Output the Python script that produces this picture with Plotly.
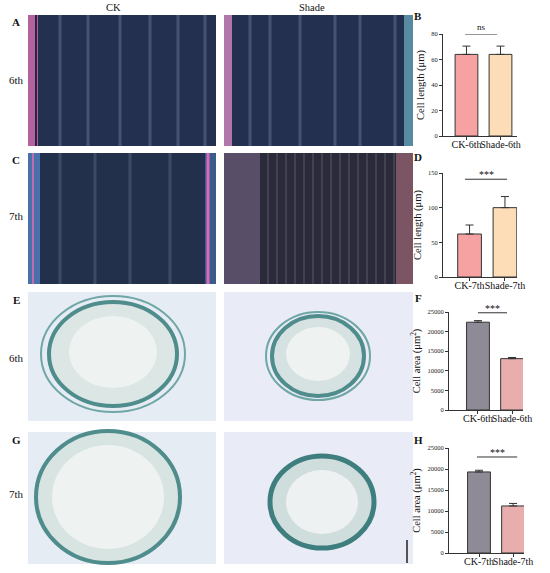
import plotly.graph_objects as go

W, H = 550, 573

# ---- data ----
cats_6th = ["CK-6th", "Shade-6th"]
cats_7th = ["CK-7th", "Shade-7th"]
length_6th = [64, 64]
length_6th_err = [6.5, 6.5]
length_7th = [62, 100]
length_7th_err = [13, 16]
area_6th = [22400, 13100]
area_6th_err = [400, 300]
area_7th = [19300, 11200]
area_7th_err = [400, 600]
sig_B, sig_D, sig_F, sig_H = "ns", "***", "***", "***"

len_colors = ["#F7A2A2", "#FDDDB8"]
area_colors = ["#8F8B96", "#E8AEAE"]

def px(x):
    return x / W

def py(y):
    return 1 - y / H

FONT = "Liberation Serif, Times New Roman, serif"

fig = go.Figure()

def add_bars(vals, errs, cats, colors, ax):
    fig.add_trace(go.Bar(
        x=cats, y=vals, width=0.67,
        marker=dict(color=colors, line=dict(color="#333333", width=1)),
        error_y=dict(type="data", array=errs, arrayminus=[0]*len(errs), symmetric=False,
                     color="#333333", thickness=1, width=4),
        xaxis="x" + ax, yaxis="y" + ax, showlegend=False))

add_bars(length_6th, length_6th_err, cats_6th, len_colors, "")
add_bars(length_7th, length_7th_err, cats_7th, len_colors, "2")
add_bars(area_6th, area_6th_err, cats_6th, area_colors, "3")
add_bars(area_7th, area_7th_err, cats_7th, area_colors, "4")

def xax(dom, rng):
    return dict(domain=dom, range=rng, showline=True, linecolor="#333", linewidth=1,
                ticks="outside", ticklen=3, tickcolor="#333", showgrid=False, zeroline=False,
                tickangle=0, automargin=False, ticklabelstandoff=-4,
                tickfont=dict(family=FONT, size=10, color="#111"), fixedrange=True)

def yax(dom, rng, dtick, anchor, title):
    return dict(domain=dom, range=rng, dtick=dtick, showline=True, linecolor="#333", linewidth=1,
                ticks="outside", ticklen=3, tickcolor="#333", showgrid=False, zeroline=False,
                tickformat="d", automargin=False,
                tickfont=dict(family=FONT, size=6.5, color="#222"), anchor=anchor,
                title=dict(text=title, font=dict(family=FONT, size=10.5, color="#111"), standoff=4))

fig.update_layout(
    xaxis=dict(xax([px(443), px(517)], [-0.69, 1.485]), anchor="y"),
    yaxis=yax([py(136), py(34)], [0, 80], 20, "x", "Cell length (μm)"),
    xaxis2=dict(xax([px(443), px(517)], [-0.75, 1.34]), anchor="y2"),
    yaxis2=yax([py(277), py(173)], [0, 150], 50, "x2", "Cell length (μm)"),
    xaxis3=dict(xax([px(449), px(523)], [-0.85, 1.32]), anchor="y3"),
    yaxis3=yax([py(410), py(312)], [0, 25000], 5000, "x3", "Cell area (μm<sup>2</sup>)"),
    xaxis4=dict(xax([px(449), px(524)], [-0.88, 1.32]), anchor="y4"),
    yaxis4=yax([py(553), py(448)], [0, 25000], 5000, "x4", "Cell area (μm<sup>2</sup>)"),
)

shapes = []
annots = []

def sig(ax, x0, x1, yv, text):
    shapes.append(dict(type="line", xref="x" + ax, yref="y" + ax, x0=x0, x1=x1, y0=yv, y1=yv,
                       line=dict(color="#333", width=1)))
    annots.append(dict(xref="x" + ax, yref="y" + ax, x=(x0 + x1) / 2, y=yv, text=text,
                       showarrow=False, yanchor="bottom", yshift=0 if text == "ns" else -3,
                       font=dict(family=FONT, size=9 if text == "ns" else 10, color="#111")))

sig("", -0.04, 0.9, 80, sig_B)
sig("2", -0.13, 1.06, 141, sig_D)
sig("3", 0.0, 0.85, 24800, sig_F)
sig("4", -0.06, 1.12, 22860, sig_H)

# ---- micrograph panels (decorative approximations) ----
def rect(x0, y0, x1, y1, color, opacity=1.0):
    shapes.append(dict(type="rect", xref="paper", yref="paper", x0=px(x0), x1=px(x1),
                       y0=py(y1), y1=py(y0), fillcolor=color, opacity=opacity,
                       line=dict(width=0), layer="below"))

def vline(x, y0, y1, color, w=1, op=0.5):
    shapes.append(dict(type="line", xref="paper", yref="paper", x0=px(x), x1=px(x),
                       y0=py(y1), y1=py(y0), line=dict(color=color, width=w), opacity=op,
                       layer="below"))

def ellipse(cx, cy, rx, ry, fill, line, lw=2):
    shapes.append(dict(type="circle", xref="paper", yref="paper", x0=px(cx - rx), x1=px(cx + rx),
                       y0=py(cy + ry), y1=py(cy - ry), fillcolor=fill,
                       line=dict(color=line, width=lw), layer="below"))

LX0, LX1, RX0, RX1 = 28, 216, 224, 413
rowA, rowC, rowE, rowG = (15, 146), (153, 284), (292, 421), (432, 564)

# row A
for (x0, x1) in [(LX0, LX1), (RX0, RX1)]:
    rect(x0, rowA[0], x1, rowA[1], "#24304F")
for x in [60, 88, 120, 150, 178, 205]:
    vline(x, rowA[0], rowA[1], "#8FA6C8", w=3, op=0.3)
for x in [250, 270, 300, 335, 360, 395]:
    vline(x, rowA[0], rowA[1], "#8FA6C8", w=3, op=0.3)
rect(LX0, rowA[0], 38, rowA[1], "#D86FB0", 0.8)
vline(36, rowA[0], rowA[1], "#1A1F3A", w=2, op=0.9)
rect(RX0, rowA[0], 232, rowA[1], "#D48AC2", 0.8)
rect(404, rowA[0], RX1, rowA[1], "#7CC7D8", 0.6)

# row C
rect(LX0, rowC[0], LX1, rowC[1], "#22304C")
rect(LX0, rowC[0], 40, rowC[1], "#5A8CD0", 0.7)
vline(33, rowC[0], rowC[1], "#E06CB4", w=2, op=0.8)
rect(205, rowC[0], LX1, rowC[1], "#4C78B8", 0.6)
vline(208, rowC[0], rowC[1], "#F06ABC", w=3, op=0.9)
for x in [60, 95, 130, 170]:
    vline(x, rowC[0], rowC[1], "#8FA6C8", w=3, op=0.22)
rect(RX0, rowC[0], RX1, rowC[1], "#2A2A3A")
rect(RX0, rowC[0], 260, rowC[1], "#6E5E7A", 0.7)
rect(396, rowC[0], RX1, rowC[1], "#A06878", 0.7)
for x in range(268, 396, 9):
    vline(x, rowC[0], rowC[1], "#C9C3D2", w=1, op=0.3)

# row E / G : cross sections
for r in (rowE, rowG):
    rect(LX0, r[0], LX1, r[1], "#E6ECF4")
    rect(RX0, r[0], RX1, r[1], "#E9ECF6")

ellipse(113, 354, 72, 58, "rgba(0,0,0,0)", "#6FA6A6", 2)
ellipse(113, 354, 64, 52, "#DCE6E5", "#4F8C8C", 4)
ellipse(113, 352, 44, 36, "#EEF2F1", "rgba(0,0,0,0)", 0)

ellipse(318, 356, 52, 44, "rgba(0,0,0,0)", "#6FA6A6", 2)
ellipse(318, 356, 46, 40, "#D6E2E1", "#4F8C8C", 4)
ellipse(318, 354, 32, 27, "#EEF2F1", "rgba(0,0,0,0)", 0)

ellipse(108, 497, 72, 66, "#D8E4E2", "#4F8C8C", 4)
ellipse(108, 497, 56, 52, "#EEF2F1", "rgba(0,0,0,0)", 0)

ellipse(322, 502, 52, 46, "#CFDDDC", "#3F7E7E", 5)
ellipse(322, 502, 36, 32, "#EDF1F1", "rgba(0,0,0,0)", 0)

# scale bar
shapes.append(dict(type="line", xref="paper", yref="paper", x0=px(407), x1=px(407),
                   y0=py(563), y1=py(540), line=dict(color="#222", width=1.5)))

def txt(x, y, t, size=11, bold=False):
    annots.append(dict(xref="paper", yref="paper", x=px(x), y=py(y), text=f"<b>{t}</b>" if bold else t,
                       showarrow=False, xanchor="center", yanchor="middle",
                       font=dict(family=FONT, size=size, color="#111")))

txt(113, 8, "CK", 10.5)
txt(312, 8, "Shade", 10.5)
for (lbl, y) in [("A", 22), ("C", 160), ("E", 300), ("G", 440)]:
    txt(16, y, lbl, 11, True)
for (lbl, y) in [("6th", 80), ("7th", 216), ("6th", 358), ("7th", 494)]:
    txt(16, y, lbl, 11)
for (lbl, x, y) in [("B", 418, 16), ("D", 418, 157), ("F", 418, 298), ("H", 418, 440)]:
    txt(x, y, lbl, 11, True)

fig.update_layout(
    width=W, height=H, margin=dict(l=0, r=0, t=0, b=0),
    paper_bgcolor="white", plot_bgcolor="rgba(0,0,0,0)",
    shapes=shapes, annotations=annots, bargap=0.3,
    font=dict(family=FONT),
)

fig.write_html("out.html", config={"displayModeBar": False},
               post_script="document.body.style.margin='0';")
